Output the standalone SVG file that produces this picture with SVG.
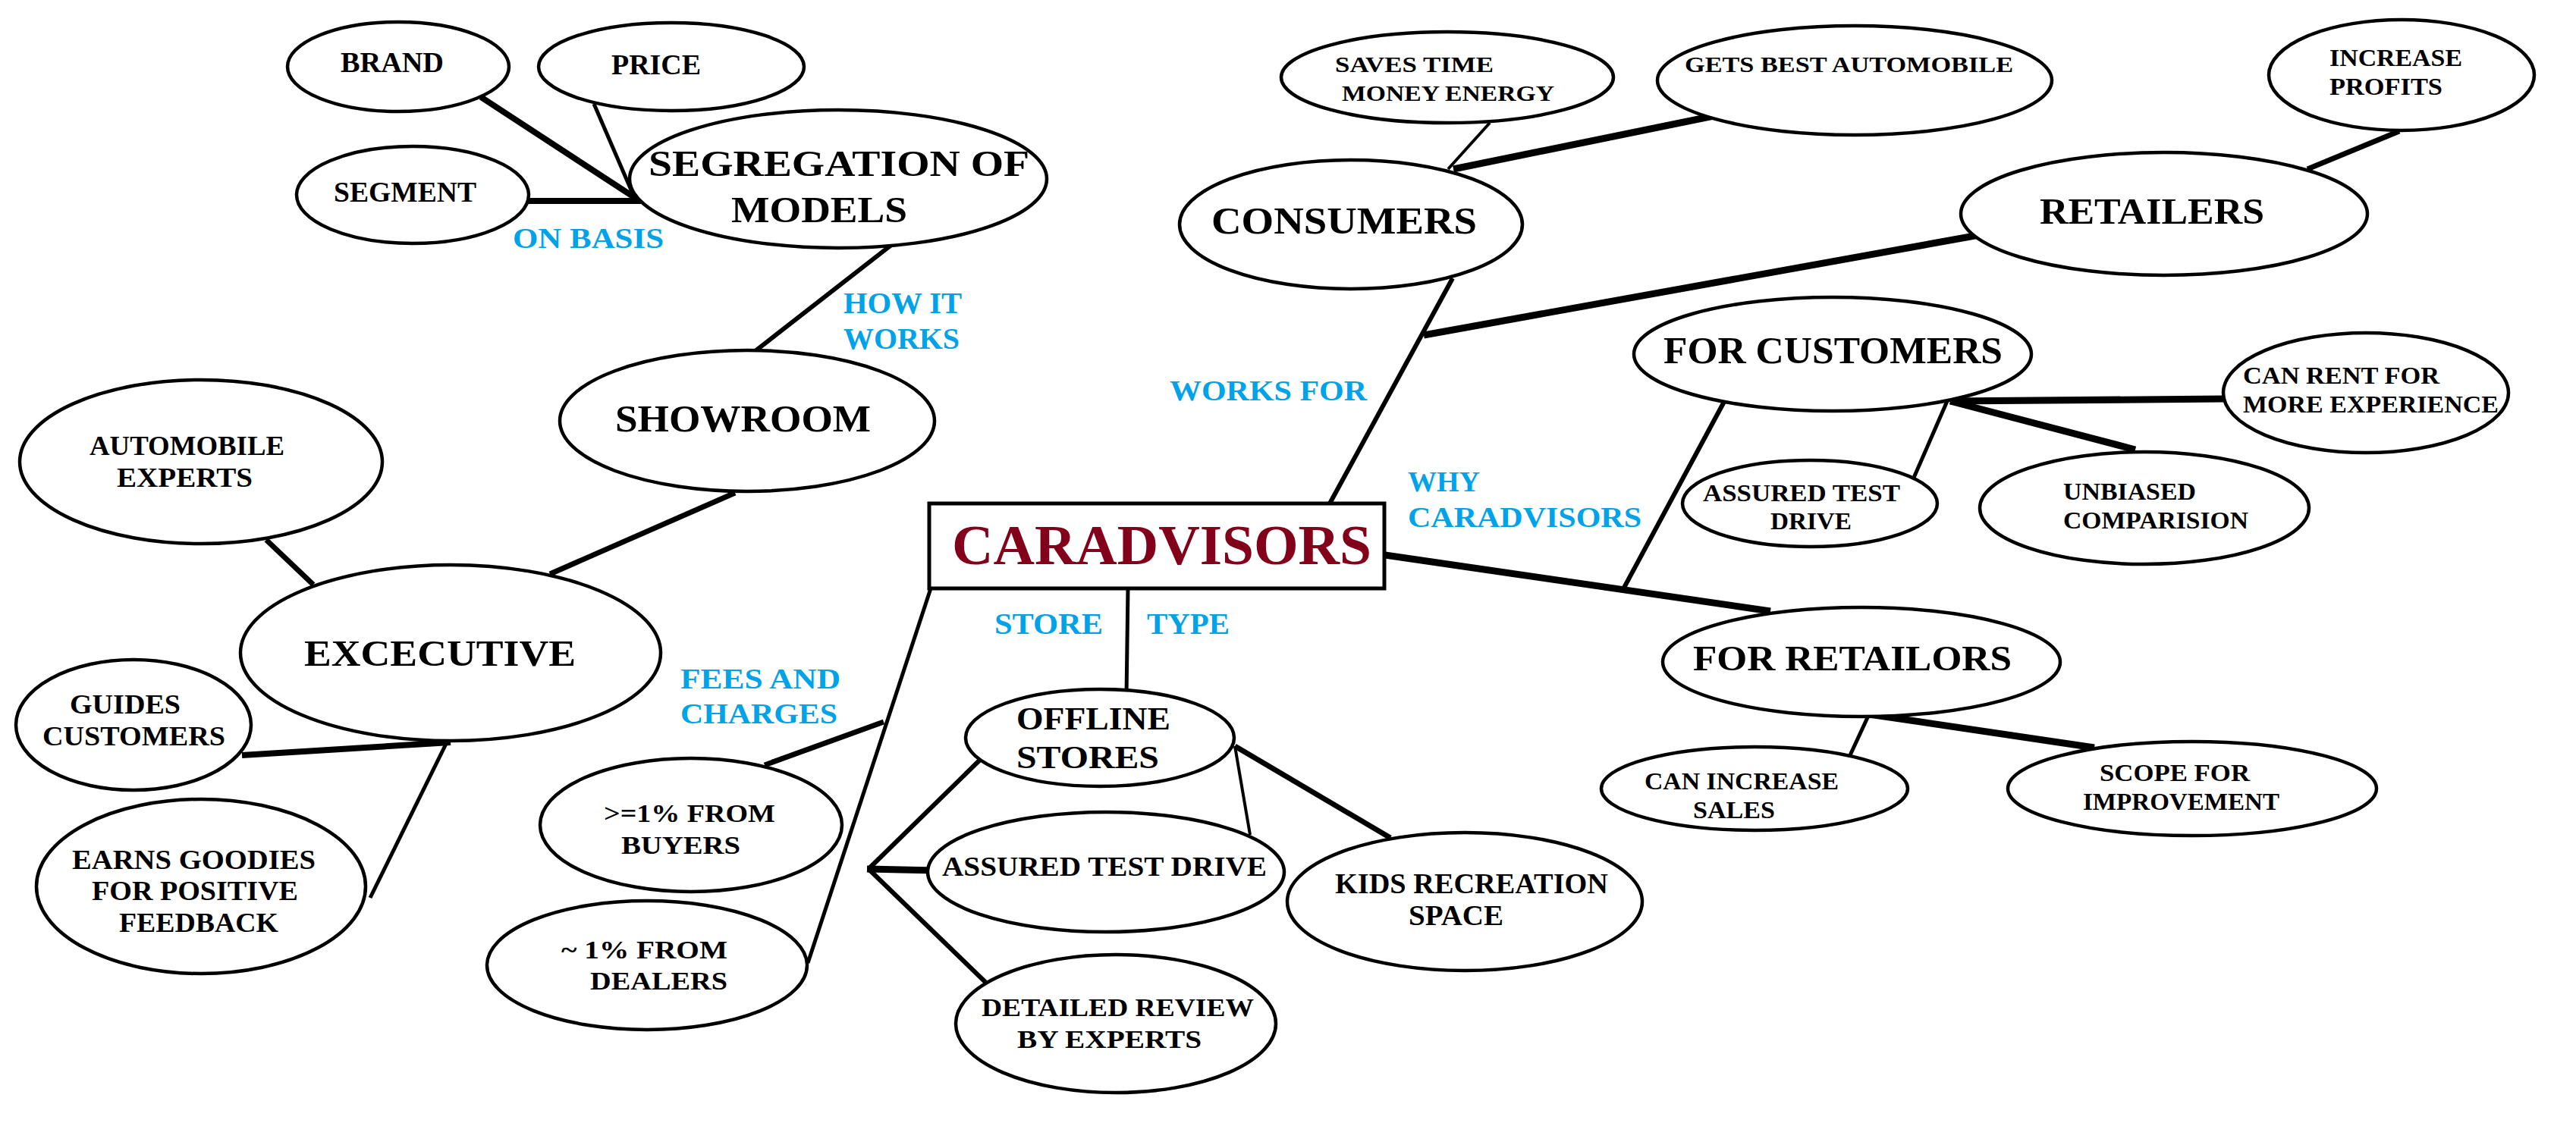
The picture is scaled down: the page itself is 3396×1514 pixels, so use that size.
<svg xmlns="http://www.w3.org/2000/svg" width="3396" height="1514" viewBox="0 0 3396 1514">
<style>
.n ellipse{fill:#fff;stroke:#000;stroke-width:4.5}
.t{font-family:"Liberation Serif","Times New Roman",serif;font-weight:bold;fill:#000}
.b{font-family:"Liberation Serif","Times New Roman",serif;font-weight:bold;fill:#00A2E8}
#connectors line{stroke:#000;stroke-linecap:butt}
</style>
<rect width="3396" height="1514" fill="#fff"/>
<g id="connectors">
<line x1="634" y1="128" x2="839" y2="262" stroke-width="8"/>
<line x1="783" y1="137" x2="837" y2="262" stroke-width="5"/>
<line x1="696" y1="265" x2="846" y2="265" stroke-width="8"/>
<line x1="1179" y1="320" x2="993" y2="465" stroke-width="6"/>
<line x1="969" y1="650" x2="725" y2="757" stroke-width="7"/>
<line x1="351" y1="712" x2="413" y2="771" stroke-width="7"/>
<line x1="319" y1="996" x2="594" y2="979" stroke-width="8"/>
<line x1="588" y1="981" x2="488" y2="1184" stroke-width="5"/>
<line x1="1227" y1="776" x2="1065" y2="1270" stroke-width="5"/>
<line x1="1165" y1="952" x2="1008" y2="1009" stroke-width="7"/>
<line x1="1487" y1="776" x2="1485" y2="918" stroke-width="5"/>
<line x1="1292" y1="1002" x2="1145" y2="1146" stroke-width="6"/>
<line x1="1143" y1="1146" x2="1234" y2="1148" stroke-width="9"/>
<line x1="1145" y1="1146" x2="1303" y2="1299" stroke-width="6"/>
<line x1="1628" y1="984" x2="1648" y2="1101" stroke-width="4"/>
<line x1="1628" y1="984" x2="1833" y2="1105" stroke-width="7"/>
<line x1="1753" y1="664" x2="1915" y2="367" stroke-width="6"/>
<line x1="1877" y1="442" x2="2609" y2="310" stroke-width="9"/>
<line x1="1909" y1="223" x2="1964" y2="162" stroke-width="4"/>
<line x1="1916" y1="223" x2="2259" y2="153" stroke-width="9"/>
<line x1="3042" y1="223" x2="3163" y2="173" stroke-width="7"/>
<line x1="1826" y1="732" x2="2334" y2="806" stroke-width="9"/>
<line x1="2275" y1="526" x2="2141" y2="775" stroke-width="6"/>
<line x1="2571" y1="529" x2="2931" y2="526" stroke-width="9"/>
<line x1="2571" y1="529" x2="2815" y2="593" stroke-width="9"/>
<line x1="2567" y1="529" x2="2523" y2="630" stroke-width="5"/>
<line x1="2464" y1="942" x2="2439" y2="996" stroke-width="5"/>
<line x1="2464" y1="942" x2="2761" y2="986" stroke-width="9"/>
</g>
<g id="labels">
<text class="b" x="676" y="327" font-size="38" textLength="199" lengthAdjust="spacingAndGlyphs">ON BASIS</text>
<text class="b" x="1112" y="413" font-size="39" textLength="156" lengthAdjust="spacingAndGlyphs">HOW IT</text>
<text class="b" x="1112" y="460" font-size="39" textLength="153" lengthAdjust="spacingAndGlyphs">WORKS</text>
<text class="b" x="1542" y="528" font-size="38" textLength="260" lengthAdjust="spacingAndGlyphs">WORKS FOR</text>
<text class="b" x="1856" y="648" font-size="38" textLength="95" lengthAdjust="spacingAndGlyphs">WHY</text>
<text class="b" x="1856" y="695" font-size="38" textLength="308" lengthAdjust="spacingAndGlyphs">CARADVISORS</text>
<text class="b" x="1311" y="836" font-size="39" textLength="143" lengthAdjust="spacingAndGlyphs">STORE</text>
<text class="b" x="1512" y="836" font-size="39" textLength="109" lengthAdjust="spacingAndGlyphs">TYPE</text>
<text class="b" x="897" y="908" font-size="38" textLength="211" lengthAdjust="spacingAndGlyphs">FEES AND</text>
<text class="b" x="897" y="954" font-size="38" textLength="207" lengthAdjust="spacingAndGlyphs">CHARGES</text>
</g>
<g id="caradvisors">
<rect x="1225" y="664" width="600" height="112" fill="#fff" stroke="#000" stroke-width="5"/>
<text x="1255" y="744" font-size="73" font-family="Liberation Serif, serif" font-weight="bold" fill="#83001B" textLength="553" lengthAdjust="spacingAndGlyphs">CARADVISORS</text>
</g>
<g id="brand" class="n"><ellipse cx="525" cy="88" rx="146" ry="59"/><text class="t" x="449" y="95" font-size="38" textLength="136" lengthAdjust="spacingAndGlyphs">BRAND</text></g>
<g id="price" class="n"><ellipse cx="885" cy="88" rx="175" ry="58"/><text class="t" x="806" y="98" font-size="38" textLength="118" lengthAdjust="spacingAndGlyphs">PRICE</text></g>
<g id="segment" class="n"><ellipse cx="544" cy="257" rx="153" ry="64"/><text class="t" x="440" y="266" font-size="38" textLength="188" lengthAdjust="spacingAndGlyphs">SEGMENT</text></g>
<g id="segregation" class="n"><ellipse cx="1105" cy="236" rx="275" ry="91"/><text class="t" x="855" y="232" font-size="48" textLength="502" lengthAdjust="spacingAndGlyphs">SEGREGATION OF</text><text class="t" x="964" y="293" font-size="48" textLength="232" lengthAdjust="spacingAndGlyphs">MODELS</text></g>
<g id="showroom" class="n"><ellipse cx="985" cy="555" rx="247" ry="93"/><text class="t" x="811" y="569" font-size="50" textLength="337" lengthAdjust="spacingAndGlyphs">SHOWROOM</text></g>
<g id="automobile-experts" class="n"><ellipse cx="265" cy="609" rx="239" ry="108"/><text class="t" x="118" y="600" font-size="36" textLength="257" lengthAdjust="spacingAndGlyphs">AUTOMOBILE</text><text class="t" x="154" y="642" font-size="36" textLength="179" lengthAdjust="spacingAndGlyphs">EXPERTS</text></g>
<g id="excecutive" class="n"><ellipse cx="594" cy="861" rx="277" ry="116"/><text class="t" x="401" y="878" font-size="49" textLength="358" lengthAdjust="spacingAndGlyphs">EXCECUTIVE</text></g>
<g id="guides" class="n"><ellipse cx="176" cy="956" rx="155" ry="86"/><text class="t" x="92" y="941" font-size="35" textLength="146" lengthAdjust="spacingAndGlyphs">GUIDES</text><text class="t" x="56" y="983" font-size="35" textLength="241" lengthAdjust="spacingAndGlyphs">CUSTOMERS</text></g>
<g id="earns" class="n"><ellipse cx="265" cy="1169" rx="217" ry="115"/><text class="t" x="95" y="1146" font-size="35" textLength="321" lengthAdjust="spacingAndGlyphs">EARNS GOODIES</text><text class="t" x="121" y="1187" font-size="35" textLength="272" lengthAdjust="spacingAndGlyphs">FOR POSITIVE</text><text class="t" x="157" y="1229" font-size="35" textLength="210" lengthAdjust="spacingAndGlyphs">FEEDBACK</text></g>
<g id="buyers" class="n"><ellipse cx="911" cy="1088" rx="199" ry="88"/><text class="t" x="796" y="1084" font-size="34" textLength="226" lengthAdjust="spacingAndGlyphs">&gt;=1% FROM</text><text class="t" x="819" y="1126" font-size="34" textLength="157" lengthAdjust="spacingAndGlyphs">BUYERS</text></g>
<g id="dealers" class="n"><ellipse cx="853" cy="1273" rx="211" ry="85"/><text class="t" x="740" y="1264" font-size="34" textLength="219" lengthAdjust="spacingAndGlyphs">~ 1% FROM</text><text class="t" x="778" y="1305" font-size="34" textLength="181" lengthAdjust="spacingAndGlyphs">DEALERS</text></g>
<g id="offline" class="n"><ellipse cx="1450" cy="973" rx="177" ry="64"/><text class="t" x="1340" y="962" font-size="42" textLength="203" lengthAdjust="spacingAndGlyphs">OFFLINE</text><text class="t" x="1340" y="1013" font-size="42" textLength="188" lengthAdjust="spacingAndGlyphs">STORES</text></g>
<g id="assured-store" class="n"><ellipse cx="1458" cy="1150" rx="235" ry="79"/><text class="t" x="1242" y="1155" font-size="35" textLength="428" lengthAdjust="spacingAndGlyphs">ASSURED TEST DRIVE</text></g>
<g id="detailed" class="n"><ellipse cx="1471" cy="1350" rx="211" ry="91"/><text class="t" x="1294" y="1340" font-size="34" textLength="359" lengthAdjust="spacingAndGlyphs">DETAILED REVIEW</text><text class="t" x="1341" y="1382" font-size="34" textLength="243" lengthAdjust="spacingAndGlyphs">BY EXPERTS</text></g>
<g id="kids" class="n"><ellipse cx="1931" cy="1189" rx="234" ry="91"/><text class="t" x="1760" y="1178" font-size="38" textLength="360" lengthAdjust="spacingAndGlyphs">KIDS RECREATION</text><text class="t" x="1857" y="1220" font-size="38" textLength="125" lengthAdjust="spacingAndGlyphs">SPACE</text></g>
<g id="saves" class="n"><ellipse cx="1908" cy="102" rx="219" ry="60"/><text class="t" x="1760" y="95" font-size="30" textLength="209" lengthAdjust="spacingAndGlyphs">SAVES TIME</text><text class="t" x="1769" y="133" font-size="30" textLength="280" lengthAdjust="spacingAndGlyphs">MONEY ENERGY</text></g>
<g id="gets" class="n"><ellipse cx="2445" cy="106" rx="260" ry="72"/><text class="t" x="2221" y="95" font-size="30" textLength="433" lengthAdjust="spacingAndGlyphs">GETS BEST AUTOMOBILE</text></g>
<g id="increase" class="n"><ellipse cx="3166" cy="99" rx="175" ry="73"/><text class="t" x="3071" y="87" font-size="31" textLength="175" lengthAdjust="spacingAndGlyphs">INCREASE</text><text class="t" x="3071" y="125" font-size="31" textLength="149" lengthAdjust="spacingAndGlyphs">PROFITS</text></g>
<g id="consumers" class="n"><ellipse cx="1781" cy="296" rx="226" ry="85"/><text class="t" x="1597" y="308" font-size="50" textLength="350" lengthAdjust="spacingAndGlyphs">CONSUMERS</text></g>
<g id="retailers" class="n"><ellipse cx="2853" cy="282" rx="268" ry="81"/><text class="t" x="2689" y="295" font-size="48" textLength="296" lengthAdjust="spacingAndGlyphs">RETAILERS</text></g>
<g id="for-customers" class="n"><ellipse cx="2416" cy="467" rx="262" ry="75"/><text class="t" x="2193" y="479" font-size="50" textLength="447" lengthAdjust="spacingAndGlyphs">FOR CUSTOMERS</text></g>
<g id="can-rent" class="n"><ellipse cx="3119" cy="518" rx="188" ry="79"/><text class="t" x="2957" y="506" font-size="32" textLength="259" lengthAdjust="spacingAndGlyphs">CAN RENT FOR</text><text class="t" x="2957" y="544" font-size="32" textLength="337" lengthAdjust="spacingAndGlyphs">MORE EXPERIENCE</text></g>
<g id="assured-customer" class="n"><ellipse cx="2386" cy="664" rx="168" ry="57"/><text class="t" x="2245" y="661" font-size="31" textLength="260" lengthAdjust="spacingAndGlyphs">ASSURED TEST</text><text class="t" x="2334" y="698" font-size="31" textLength="107" lengthAdjust="spacingAndGlyphs">DRIVE</text></g>
<g id="unbiased" class="n"><ellipse cx="2827" cy="670" rx="217" ry="74"/><text class="t" x="2720" y="659" font-size="31" textLength="175" lengthAdjust="spacingAndGlyphs">UNBIASED</text><text class="t" x="2720" y="697" font-size="31" textLength="244" lengthAdjust="spacingAndGlyphs">COMPARISION</text></g>
<g id="for-retailors" class="n"><ellipse cx="2454" cy="873" rx="262" ry="72"/><text class="t" x="2232" y="884" font-size="47" textLength="420" lengthAdjust="spacingAndGlyphs">FOR RETAILORS</text></g>
<g id="can-increase" class="n"><ellipse cx="2313" cy="1040" rx="202" ry="55"/><text class="t" x="2168" y="1041" font-size="31" textLength="256" lengthAdjust="spacingAndGlyphs">CAN INCREASE</text><text class="t" x="2232" y="1079" font-size="31" textLength="108" lengthAdjust="spacingAndGlyphs">SALES</text></g>
<g id="scope" class="n"><ellipse cx="2890" cy="1040" rx="243" ry="62"/><text class="t" x="2768" y="1030" font-size="31" textLength="198" lengthAdjust="spacingAndGlyphs">SCOPE FOR</text><text class="t" x="2746" y="1068" font-size="31" textLength="259" lengthAdjust="spacingAndGlyphs">IMPROVEMENT</text></g>
</svg>
